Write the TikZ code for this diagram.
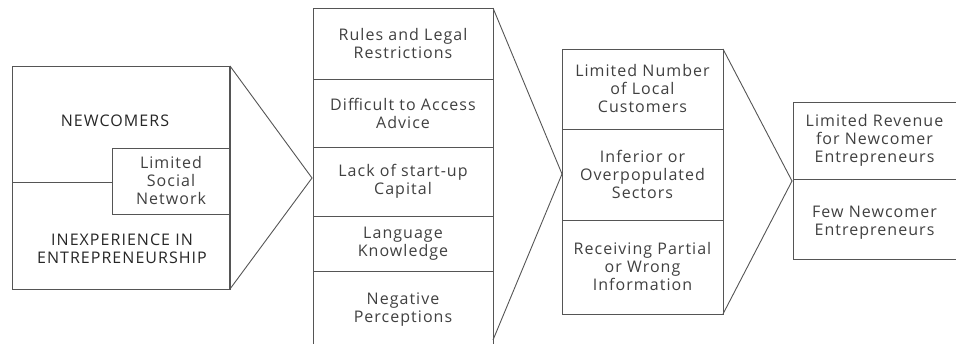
\documentclass[tikz,border=0pt]{standalone}
\usepackage{fontspec}
\setmainfont{Open Sans}[LetterSpace=6.5]
\begin{document}
\begin{tikzpicture}[x=1pt,y=-1pt,
  every node/.style={inner sep=0pt, outer sep=0pt},
  frame/.style={draw=linegray, line width=0.9pt},
  cell/.style={frame, rectangle, anchor=north west},
  txt/.style={text=textgray, align=center, font=\fontsize{16}{18}\selectfont},
  head/.style={text=black!85, align=center, font=\fontsize{16}{18}\selectfont},
  link/.style={draw=linegray, line width=0.9pt}]
\definecolor{linegray}{HTML}{555555}
\definecolor{textgray}{HTML}{404040}
\useasboundingbox (0,0) rectangle (956,344);

% ---- group 1: newcomers ----
\node[cell, minimum width=218pt, minimum height=223pt] (g1) at (12,66) {};
\node[cell, minimum width=118pt, minimum height=66pt] (soc) at (112,148) {};
\node[txt] (socT) at (171,181) {Limited\\Social\\Network};
\coordinate (g1l) at (12,182);
\draw[link] (g1l) -- (soc.west |- g1l);
\draw[draw=linegray, line width=1.8pt] (g1.north east) -- (g1.south east);
\node[head] (newc) at (115,121) {NEWCOMERS};
\node[head] (inexp) at (122,249) {INEXPERIENCE IN\\ENTREPRENEURSHIP};

% ---- group 2: barriers ----
\node[cell, minimum width=180pt, minimum height=71pt] (b1) at (313,8) {};
\node[cell, minimum width=180pt, minimum height=68pt] (b2) at (313,79) {};
\node[cell, minimum width=180pt, minimum height=69pt] (b3) at (313,147) {};
\node[cell, minimum width=180pt, minimum height=55pt] (b4) at (313,216) {};
\node[cell, minimum width=180pt, minimum height=75pt] (b5) at (313,271) {};
\node[txt] at (b1) {Rules and Legal\\Restrictions};
\node[txt] at (b2) {Difficult to Access\\Advice};
\node[txt] at (b3) {Lack of start-up\\Capital};
\node[txt] at (b4) {Language\\Knowledge};
\node[txt] at ([yshift=-1pt]b5.center) {Negative\\Perceptions};

% ---- group 3: consequences ----
\node[cell, minimum width=161pt, minimum height=80pt] (c1) at (562,49) {};
\node[cell, minimum width=161pt, minimum height=91pt] (c2) at (562,129) {};
\node[cell, minimum width=161pt, minimum height=94pt] (c3) at (562,220) {};
\node[txt] at (c1) {Limited Number\\of Local\\Customers};
\node[txt] at (c2) {Inferior or\\Overpopulated\\Sectors};
\node[txt] at (c3) {Receiving Partial\\or Wrong\\Information};

% ---- group 4: outcomes ----
\node[cell, minimum width=163pt, minimum height=77pt] (d1) at (793,102) {};
\node[cell, minimum width=163pt, minimum height=80pt] (d2) at (793,179) {};
\node[txt] at (d1) {Limited Revenue\\for Newcomer\\Entrepreneurs};
\node[txt] at ([yshift=-4pt]d2.center) {Few Newcomer\\Entrepreneurs};

% ---- chevrons between groups ----
\coordinate (t1) at (312,178);
\coordinate (t2) at (562,174);
\coordinate (t3) at (792,181);
\coordinate (e2) at (493,340);
\draw[link] (g1.north east) -- (t1) -- (g1.south east);
\draw[link] (b1.north east) -- (t2) -- (e2);
\draw[link] (c1.north east) -- (t3) -- (c3.south east);
\end{tikzpicture}
\end{document}
